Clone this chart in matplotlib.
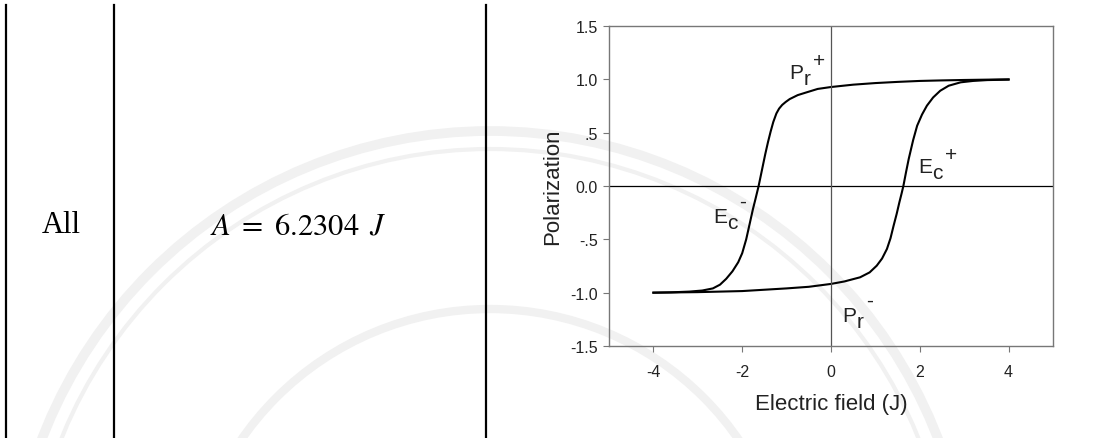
import matplotlib
matplotlib.use('Agg')
import matplotlib.pyplot as plt
from matplotlib import transforms
from matplotlib.lines import Line2D
from matplotlib.patches import Ellipse

# descending branch: field swept from +4 down to -4
field_down = [4.0, 3.5, 3.0, 2.5, 2.0, 1.5, 1.0, 0.5, 0.0, -0.3, -0.55, -0.75,
              -0.93, -1.02, -1.10, -1.17, -1.23, -1.30, -1.36, -1.42, -1.48,
              -1.53, -1.58, -1.63, -1.70, -1.76, -1.84, -1.91, -2.00, -2.09,
              -2.22, -2.36, -2.50, -2.66, -2.90, -3.19, -3.60, -4.0]
pol_down = [1.0, 0.997, 0.994, 0.99, 0.985, 0.976, 0.965, 0.95, 0.928, 0.91,
            0.878, 0.852, 0.815, 0.788, 0.76, 0.725, 0.68, 0.6, 0.51, 0.41,
            0.3, 0.2, 0.1, 0.0, -0.12, -0.22, -0.37, -0.5, -0.63, -0.715,
            -0.8, -0.87, -0.925, -0.96, -0.98, -0.99, -0.997, -1.0]

# ascending branch: field swept from -4 up to +4
field_up = [-4.0, -3.0, -2.0, -1.0, -0.5, 0.0, 0.3, 0.655, 0.87, 1.03, 1.15,
            1.26, 1.34, 1.41, 1.48, 1.54, 1.59, 1.63, 1.69, 1.75, 1.85, 1.94,
            2.05, 2.16, 2.3, 2.46, 2.65, 2.92, 3.2, 3.52, 4.0]
pol_up = [-1.0, -0.995, -0.985, -0.96, -0.945, -0.918, -0.895, -0.856, -0.81,
          -0.747, -0.68, -0.59, -0.49, -0.372, -0.26, -0.153, -0.07, 0.0,
          0.13, 0.253, 0.43, 0.565, 0.67, 0.753, 0.83, 0.893, 0.94, 0.972,
          0.985, 0.993, 0.997]

x_ticks = [-4, -2, 0, 2, 4]
y_ticks = [1.5, 1.0, 0.5, 0.0, -0.5, -1.0, -1.5]
y_tick_labels = ['1.5', '1.0', '.5', '0.0', '-.5', '-1.0', '-1.5']

plt.rcParams['font.family'] = ['Liberation Sans', 'DejaVu Sans']
plt.rcParams['mathtext.fontset'] = 'stix'
plt.rcParams['axes.unicode_minus'] = False

W, H = 1107, 439
fig = plt.figure(figsize=(W / 100, H / 100), dpi=100)


def fx(px):
    return px / W


def fy(py):
    return 1 - py / H


# faint watermark rings behind everything
for r, lw in [(480, 7), (462, 3), (302, 6)]:
    fig.add_artist(Ellipse((fx(490), fy(612)), 2 * r / W, 2 * r / H,
                           transform=fig.transFigure, fill=False,
                           color='#f1f1f1', lw=lw, zorder=-1))

# table column rules
for px in [6, 114, 486]:
    fig.add_artist(Line2D([fx(px), fx(px)], [0, fy(6)],
                          transform=fig.transFigure, color='black', lw=1.6))

fig.text(fx(61), fy(233.5), 'All', family='Liberation Serif', fontsize=22,
         ha='center', va='baseline')
fig.text(fx(298), fy(235), r'$A\ =\ 6.2304\ \,J$', fontsize=22,
         ha='center', va='baseline')

ax = fig.add_axes([fx(609), fy(347), fx(1053) - fx(609), (347 - 27) / H])
ax.set_facecolor('none')
ax.plot(field_down, pol_down, color='black', lw=1.5, solid_joinstyle='round')
ax.plot(field_up, pol_up, color='black', lw=1.5, solid_joinstyle='round')
ax.axhline(0, color='black', lw=0.9)
ax.axvline(0, color='#555555', lw=0.9)
ax.set_xlim(-5, 5)
ax.set_ylim(-1.5, 1.5)
ax.set_xticks(x_ticks)
ax.set_yticks(y_ticks)
ax.set_yticklabels(y_tick_labels)
for s in ax.spines.values():
    s.set_color('#777777')
    s.set_linewidth(1.0)
ax.tick_params(direction='out', length=4, color='#777777', labelsize=11.5,
               labelcolor='#222222')
ax.tick_params(axis='x', pad=9)
ax.tick_params(axis='y', pad=4)
ax.set_xlabel('Electric field (J)', fontsize=16, color='#222222', labelpad=10)
ax.set_ylabel('Polarization', fontsize=16, color='#222222', labelpad=5)


def marker_label(x, y, main, sub, sup, main_w, sub_w, raise_pt, size=15):
    ax.text(x, y, main, fontsize=size, va='baseline', color='#222222')
    t_sub = transforms.offset_copy(ax.transData, fig=fig, x=main_w, y=-4.3,
                                   units='points')
    ax.text(x, y, sub, fontsize=size, va='baseline', color='#222222',
            transform=t_sub)
    t_sup = transforms.offset_copy(ax.transData, fig=fig,
                                   x=main_w + sub_w + 1.5, y=raise_pt,
                                   units='points')
    ax.text(x, y, sup, fontsize=size, va='baseline', color='#222222',
            transform=t_sup)


marker_label(-0.93, 1.01, 'P', 'r', '+', 10.0, 5.0, 8.7)
marker_label(1.966, 0.128, 'E', 'c', '+', 10.0, 7.5, 8.7)
marker_label(-2.655, -0.335, 'E', 'c', '-', 10.0, 7.5, 11.0)
marker_label(0.264, -1.262, 'P', 'r', '-', 10.0, 5.0, 10.4)

fig.savefig('out.png', dpi=100)
